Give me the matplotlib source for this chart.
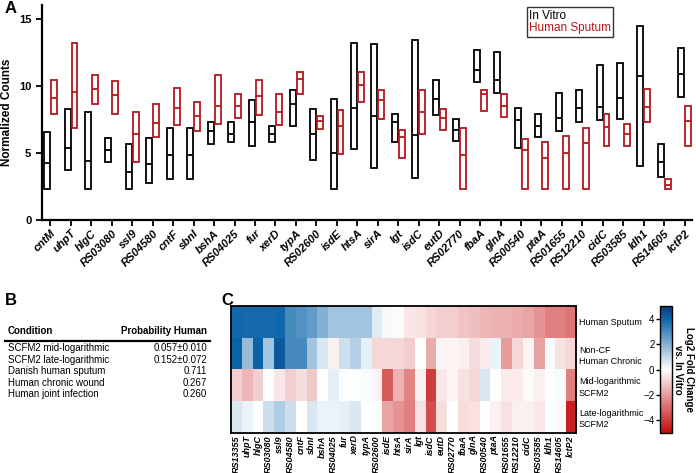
import numpy as np
import matplotlib.pyplot as plt
from matplotlib.colors import LinearSegmentedColormap

plt.rcParams['font.family'] = ['Liberation Sans', 'DejaVu Sans']

# panel A data: floating bars (min / median / max of normalized counts)
genes_a = ['cntM', 'uhpT', 'hlgC', 'RS03080', 'ssl9', 'RS04580', 'cntF', 'sbnI', 'bshA', 'RS04025',
           'fur', 'xerD', 'typA', 'RS02600', 'isdE', 'htsA', 'sirA', 'lgt', 'isdC', 'eutD',
           'RS02770', 'fbaA', 'glnA', 'RS00540', 'ptaA', 'RS01655', 'RS12210', 'cidC', 'RS03585',
           'ldh1', 'RS14605', 'lctP2']
vitro_max = [6.6, 8.3, 8.05, 6.1, 5.65, 6.15, 6.9, 6.85, 7.3, 7.35, 8.95, 7.0, 9.75, 8.3, 9.05, 13.2,
             13.15, 7.95, 13.45, 10.45, 7.55, 12.7, 12.55, 8.4, 7.95, 9.5, 9.75, 11.6, 11.75, 14.5, 5.7, 12.85]
vitro_med = [4.25, 5.35, 4.4, 5.25, 3.6, 4.2, 4.85, 4.85, 6.65, 6.4, 7.35, 6.4, 8.65, 6.4, 5.0, 8.35,
             7.75, 7.3, 6.35, 9.05, 6.7, 11.2, 10.5, 7.5, 7.0, 7.65, 8.4, 8.45, 9.15, 10.8, 4.3, 10.95]
vitro_min = [2.3, 3.7, 2.3, 4.35, 2.3, 2.8, 3.1, 3.1, 5.65, 5.85, 5.55, 5.8, 7.05, 4.45, 2.3, 5.3,
             3.9, 5.85, 3.15, 7.85, 5.9, 10.3, 9.5, 5.35, 6.2, 6.65, 7.3, 7.5, 7.55, 4.05, 3.25, 9.2]
sputum_max = [10.5, 13.2, 10.85, 10.4, 8.05, 8.65, 9.9, 8.85, 10.85, 9.45, 10.45, 9.45, 11.05, 7.75, 8.25, 11.05,
              9.75, 6.7, 9.7, 8.3, 6.85, 9.75, 9.45, 6.05, 5.85, 6.3, 6.9, 7.9, 7.15, 9.8, 3.05, 8.5]
sputum_med = [9.1, 9.6, 9.8, 9.35, 6.4, 7.25, 8.35, 7.8, 8.5, 8.5, 9.25, 8.05, 10.55, 7.4, 7.05, 10.1,
              9.0, 6.2, 8.05, 7.6, 4.85, 9.4, 8.5, 5.25, 4.65, 5.0, 5.75, 6.95, 6.4, 8.45, 2.6, 7.4]
sputum_min = [7.95, 6.85, 8.65, 7.95, 4.3, 6.2, 7.1, 6.65, 7.15, 7.65, 7.85, 7.1, 9.45, 6.8, 4.95, 8.85,
              7.55, 4.6, 6.4, 6.75, 2.3, 8.15, 7.7, 2.3, 2.3, 2.3, 2.3, 5.5, 5.55, 7.35, 2.3, 5.5]

# panel B table
conditions = ['SCFM2 mid-logarithmic', 'SCFM2 late-logarithmic', 'Danish human sputum',
              'Human chronic wound', 'Human joint infection']
prob_human = ['0.057\u00b10.010', '0.152\u00b10.072', '0.711', '0.267', '0.260']

# panel C heatmap (log2 fold change vs. in vitro)
genes_c = ['RS13355'] + genes_a[1:]
row_labels = ['Human Sputum', 'Non-CF\nHuman Chronic', 'Mid-logarithmic\nSCFM2', 'Late-logarithmic\nSCFM2']
fc_sputum = [3.9, 3.8, 3.8, 3.8, 3.9, 3.0, 2.8, 2.5, 2.0, 1.5, 1.5, 1.5, 1.5, 0.5, 0.15, -0.1,
             -0.5, -0.6, -0.8, -1.0, -1.0, -1.2, -1.3, -1.5, -1.6, -1.6, -1.7, -1.8, -2.2, -2.6, -2.6, -2.8]
fc_noncf = [4.0, 1.7, 4.0, 1.5, 4.2, 3.0, 3.0, 1.5, 0.6, -0.3, 0.8, 1.2, 0.4, -0.8, -0.8, -0.8,
            -1.0, 0.0, -1.7, -0.2, -0.2, -0.3, -0.7, -0.4, 0.3, -2.0, -0.8, -0.2, -1.9, 0.1, -0.6, -0.8]
fc_mid = [-1.0, -1.5, -1.0, 0.0, -0.5, -1.0, -0.7, -1.1, 0.0, 0.4, 0.05, 0.0, 0.1, -0.2, -3.3, -1.6,
          -2.5, -0.3, -4.0, -0.5, -0.2, -0.6, -0.8, 0.6, 0.0, -0.4, -0.4, -0.1, -0.3, 0.0, 0.1, -2.6]
fc_late = [0.6, 0.3, 0.0, 0.8, 1.3, 0.8, 0.0, 0.6, 0.3, 0.3, 0.4, 0.6, 0.0, 0.0, -1.8, -2.2,
           -2.6, -0.6, -3.6, -0.7, 0.0, -0.7, -0.6, 0.0, -0.3, -0.6, -0.3, -0.3, -0.5, 0.0, -0.1, -4.5]

red = '#b5171b'
fig = plt.figure(figsize=(6.96, 4.73), dpi=100)

# ---------- panel A ----------
ax = fig.add_axes([0.06, 0.535, 0.934, 0.455])
x = np.arange(len(genes_a))
w = 0.29
vmin, vmed, vmax = map(np.array, (vitro_min, vitro_med, vitro_max))
smin, smed, smax = map(np.array, (sputum_min, sputum_med, sputum_max))
ax.bar(x - 0.16, vmax - vmin, bottom=vmin, width=w, fill=False, edgecolor='black', linewidth=1.3)
ax.hlines(vmed, x - 0.16 - w / 2, x - 0.16 + w / 2, color='black', linewidth=1.3)
ax.bar(x + 0.18, smax - smin, bottom=smin, width=w, fill=False, edgecolor=red, linewidth=1.3)
ax.hlines(smed, x + 0.18 - w / 2, x + 0.18 + w / 2, color=red, linewidth=1.3)
ax.set_xlim(-0.42, len(genes_a) - 0.65)
ax.set_ylim(0, 16.1)
ax.set_yticks([0, 5, 10, 15])
ax.set_xticks(x)
ax.set_xticklabels(genes_a, rotation=45, ha='right', rotation_mode='anchor',
                   fontsize=8, fontweight='bold', fontstyle='italic')
ax.tick_params(axis='y', labelsize=8, width=1.3, length=4)
ax.tick_params(axis='x', width=1.3, length=4, pad=2)
for t in ax.get_yticklabels():
    t.set_fontweight('bold')
ax.set_ylabel('Normalized Counts', fontsize=8.5, fontweight='bold', labelpad=4)
for s in ['top', 'right']:
    ax.spines[s].set_visible(False)
for s in ['left', 'bottom']:
    ax.spines[s].set_linewidth(1.6)
h1 = plt.Line2D([], [], linestyle='none')
h2 = plt.Line2D([], [], linestyle='none')
leg = ax.legend([h1, h2], ['In Vitro', 'Human Sputum'], loc='upper left', bbox_to_anchor=(0.737, 1.015),
                handlelength=0, handletextpad=0, fontsize=8.5, frameon=True, fancybox=False,
                borderpad=0.2, labelspacing=0.05, labelcolor=['black', red])
leg.get_frame().set_edgecolor('black')
leg.get_frame().set_linewidth(1.0)

fig.text(0.007, 0.983, 'A', fontsize=12, fontweight='bold', va='center')

# ---------- panel B ----------
fig.text(0.007, 0.365, 'B', fontsize=12, fontweight='bold', va='center')
def fy(py):
    return 1 - py / 473
fig.text(8 / 696, fy(331), 'Condition', fontsize=7, fontweight='bold', va='center')
fig.text(207 / 696, fy(331), 'Probability Human', fontsize=7, fontweight='bold', va='center', ha='right')
fig.add_artist(plt.Line2D([5 / 696, 210 / 696], [fy(340.5), fy(340.5)], color='black', linewidth=1.6))
row_y = [348.3, 359.7, 371, 382.5, 393.7]
for cond, p, yy in zip(conditions, prob_human, row_y):
    fig.text(8 / 696, fy(yy), cond, fontsize=7, va='center')
    fig.text(207 / 696, fy(yy), p, fontsize=7, va='center', ha='right')

# ---------- panel C ----------
fig.text(0.318, 0.365, 'C', fontsize=12, fontweight='bold', va='center')
cmap = LinearSegmentedColormap.from_list('fc', [(0, '#c40a0a'), (0.5, '#ffffff'), (0.9, '#0a64a8'), (1, '#12387a')])
hm = np.array([fc_sputum, fc_noncf, fc_mid, fc_late])
axc = fig.add_axes([231 / 696, 1 - 432.7 / 473, 345 / 696, 126.7 / 473])
im = axc.imshow(hm, cmap=cmap, vmin=-5, vmax=5, aspect='auto', interpolation='nearest')
axc.set_xticks(np.arange(len(genes_c)))
axc.set_xticklabels(genes_c, rotation=90, fontsize=6.5, fontweight='bold', fontstyle='italic')
axc.set_yticks(np.arange(len(row_labels)))
axc.set_yticklabels(row_labels, fontsize=6.5, linespacing=1.35)
axc.yaxis.tick_right()
axc.tick_params(axis='both', length=0, pad=2)
for s in axc.spines.values():
    s.set_linewidth(1.3)

cax = fig.add_axes([660 / 696, 1 - 433 / 473, 12 / 696, 127 / 473])
cb = fig.colorbar(im, cax=cax, ticks=[4, 2, 0, -2, -4])
cb.outline.set_linewidth(1.0)
cax.yaxis.set_ticks_position('left')
cax.yaxis.set_label_position('right')
cax.tick_params(labelsize=7, width=1.0, length=3, pad=1)
cb.set_label('Log2 Fold Change\nvs. In Vitro', rotation=270, fontsize=7, fontweight='bold', labelpad=16)

fig.savefig('out.png', dpi=100)
